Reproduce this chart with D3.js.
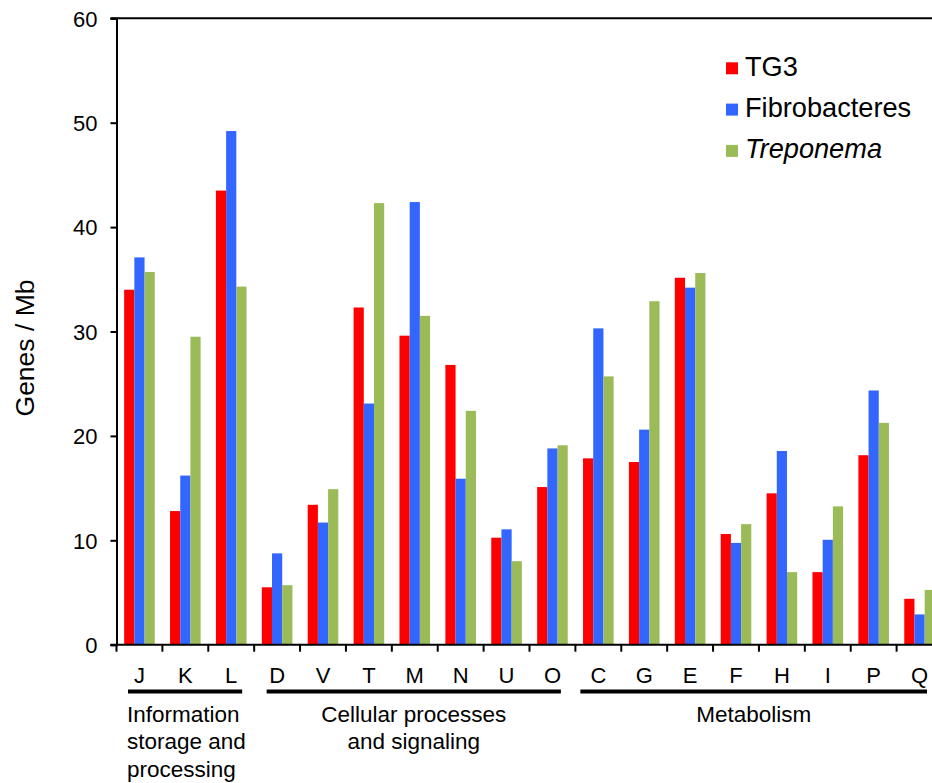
<!DOCTYPE html>
<meta charset="utf-8">
<style>
  body { margin: 0; background: #fff; }
  svg { position: absolute; left: 0; top: 0; }
  text { font-family: 'Liberation Sans', Arial, sans-serif; fill: #000; }
</style>
<script src="https://d3js.org/d3.v7.min.js"></script>
<svg width="932" height="783"></svg>
<script>
  // data
  var categories = ["J", "K", "L", "D", "V", "T", "M", "N", "U", "O", "C", "G", "E", "F", "H", "I", "P", "Q"];
  var seriesNames = ["TG3", "Fibrobacteres", "Treponema"];
  var tg3 =           [34.0, 12.8, 43.5, 5.5, 13.4, 32.3, 29.6, 26.8, 10.25, 15.1, 17.85, 17.5, 35.15, 10.6, 14.5, 6.95, 18.15, 4.4];
  var fibrobacteres = [37.1, 16.2, 49.2, 8.75, 11.7, 23.1, 42.4, 15.9, 11.05, 18.8, 30.3, 20.6, 34.2, 9.75, 18.55, 10.05, 24.35, 2.9];
  var treponema =     [35.7, 29.5, 34.3, 5.7, 14.9, 42.3, 31.5, 22.4, 8.0, 19.1, 25.7, 32.9, 35.6, 11.55, 6.95, 13.25, 21.25, 5.25];
  var yTicks = [0, 10, 20, 30, 40, 50, 60];
  var groupNames = [["Information", "storage and", "processing"], ["Cellular processes", "and signaling"], ["Metabolism"]];
  var groupFirst = ["J", "D", "C"];
  var groupLast = ["L", "O", "Q"];

  var colors = ["#ff0000", "#3366ff", "#9bbb59"];
  var values = [tg3, fibrobacteres, treponema];

  (function() {
  var svg = d3.select("svg");
  var plotLeft = 116.5, plotBottom = 644.7, plotTop = 18.3;

  var x = d3.scaleBand().domain(categories).range([plotLeft, 942.5]).padding(0);
  var bw = x.bandwidth();
  var x1 = d3.scaleBand().domain(seriesNames).range([bw / 6, bw * 5 / 6]).padding(0);
  var y = d3.scaleLinear().domain([0, 60]).range([plotBottom, plotTop]);

  // bars
  var rows = categories.map(function(c, i) {
    return { cat: c, vals: seriesNames.map(function(s, j) { return { s: s, j: j, v: values[j][i] }; }) };
  });
  var grp = svg.append("g").selectAll("g").data(rows).enter().append("g")
    .attr("transform", function(d) { return "translate(" + x(d.cat) + ",0)"; });
  grp.selectAll("rect").data(function(d) { return d.vals; }).enter().append("rect")
    .attr("x", function(d) { return x1(d.s); })
    .attr("width", x1.bandwidth())
    .attr("y", function(d) { return y(d.v); })
    .attr("height", function(d) { return y(0) - y(d.v); })
    .attr("fill", function(d) { return colors[d.j]; });

  // y axis
  var yAxis = svg.append("g").attr("transform", "translate(" + plotLeft + ",0)")
    .call(d3.axisLeft(y).tickValues(yTicks).tickSize(6).tickPadding(13));
  yAxis.select(".domain").attr("stroke", "#000").attr("stroke-width", 2);
  yAxis.selectAll(".tick line").attr("stroke", "#000").attr("stroke-width", 2);
  yAxis.selectAll(".tick text").style("font-size", "22px").attr("dy", "0.35em")
    .style("font-family", "'Liberation Sans', Arial, sans-serif");

  // top frame line
  svg.append("line").attr("x1", plotLeft - 6).attr("x2", 932)
    .attr("y1", y(60)).attr("y2", y(60)).attr("stroke", "#000").attr("stroke-width", 2);

  // x axis
  svg.append("line").attr("x1", plotLeft - 6).attr("x2", 932)
    .attr("y1", plotBottom).attr("y2", plotBottom).attr("stroke", "#000").attr("stroke-width", 2);
  svg.append("g").selectAll("line").data(categories).enter().append("line")
    .attr("x1", function(d) { return x(d); }).attr("x2", function(d) { return x(d); })
    .attr("y1", plotBottom).attr("y2", plotBottom + 7).attr("stroke", "#000").attr("stroke-width", 2);
  svg.append("g").selectAll("text").data(categories).enter().append("text")
    .attr("x", function(d) { return x(d) + bw / 2; })
    .attr("y", 682.5)
    .attr("text-anchor", "middle")
    .style("font-size", "22px")
    .text(function(d) { return d; });

  // group underlines and labels
  var insets = [[11.5, 12], [12.5, 14.5], [5, 15.5]];
  groupNames.forEach(function(lines, i) {
    var x0 = x(groupFirst[i]) + insets[i][0];
    var xe = x(groupLast[i]) + bw - insets[i][1];
    svg.append("line").attr("x1", x0).attr("x2", xe)
      .attr("y1", 691.5).attr("y2", 691.5).attr("stroke", "#000").attr("stroke-width", 4);
    var t = svg.append("text")
      .attr("text-anchor", i === 0 ? "start" : "middle")
      .style("font-size", "22.5px");
    lines.forEach(function(l, k) {
      t.append("tspan").attr("x", i === 0 ? x0 - 1 : (x0 + xe) / 2)
        .attr("y", 721.5 + k * 27.5).text(l);
    });
  });

  // y label
  svg.append("text")
    .attr("transform", "translate(34,348) rotate(-90)")
    .attr("text-anchor", "middle")
    .style("font-size", "26.5px")
    .text("Genes / Mb");

  // legend
  var leg = svg.append("g").selectAll("g").data(seriesNames).enter().append("g")
    .attr("transform", function(d, i) { return "translate(726," + (75.7 + i * 41.3) + ")"; });
  leg.append("rect").attr("x", 0).attr("y", -13.4).attr("width", 12).attr("height", 12)
    .attr("fill", function(d, i) { return colors[i]; });
  leg.append("text").attr("x", 19).attr("y", 0)
    .style("font-size", "27.2px")
    .style("font-style", function(d) { return d === "Treponema" ? "italic" : "normal"; })
    .text(function(d) { return d; });
  })();
</script>
